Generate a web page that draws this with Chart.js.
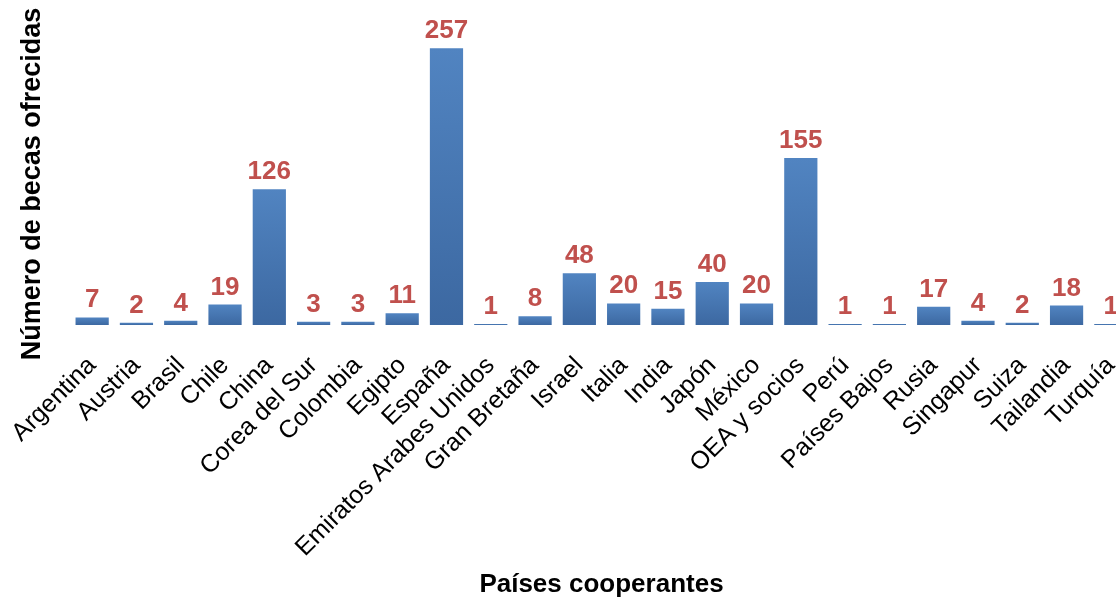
<!DOCTYPE html>
<html>
<head>
<meta charset="utf-8">
<script src="https://cdn.jsdelivr.net/npm/chart.js@4"></script>
<style>
  html, body { margin: 0; padding: 0; background: #fff; overflow: hidden; }
  .wrap { width: 1140px; height: 600px; }
</style>
</head>
<body>
<div class="wrap"><canvas id="becasChart" width="1140" height="600"></canvas></div>
<script>
// categorias y valores
const paises = ['Argentina', 'Austria', 'Brasil', 'Chile', 'China', 'Corea del Sur', 'Colombia', 'Egipto',
  'España', 'Emiratos Arabes Unidos', 'Gran Bretaña', 'Israel', 'Italia', 'India', 'Japón', 'México',
  'OEA y socios', 'Perú', 'Países Bajos', 'Rusia', 'Singapur', 'Suiza', 'Tailandia', 'Turquía'];
const becas = [7, 2, 4, 19, 126, 3, 3, 11, 257, 1, 8, 48, 20, 15, 40, 20, 155, 1, 1, 17, 4, 2, 18, 1];
const yMax = 300;

const tituloY = 'Número de becas ofrecidas';
const tituloX = 'Países cooperantes';

// gradient per bar, light on top, darker at the base
function barGradient(ctx) {
  const chart = ctx.chart;
  if (!chart.chartArea || !chart.scales.y) return '#4a79b3';
  const y = chart.scales.y;
  const top = y.getPixelForValue(ctx.raw);
  const base = y.getPixelForValue(0);
  if (!isFinite(top) || top === base) return '#4a79b3';
  const g = chart.ctx.createLinearGradient(0, top, 0, base);
  g.addColorStop(0, '#5184c1');
  g.addColorStop(1, '#3c68a1');
  return g;
}

// numbers above the bars
const valueLabels = {
  id: 'valueLabels',
  afterDatasetsDraw(chart) {
    const c = chart.ctx;
    const meta = chart.getDatasetMeta(0);
    c.save();
    c.font = 'bold 26px "Liberation Sans", Arial, sans-serif';
    c.fillStyle = '#c0504d';
    c.textAlign = 'center';
    c.textBaseline = 'alphabetic';
    meta.data.forEach((bar, i) => {
      c.fillText(String(becas[i]), bar.x, bar.y - 10);
    });
    c.restore();
  }
};

// vertical title on the left
const yTitle = {
  id: 'yTitle',
  afterDraw(chart) {
    const c = chart.ctx;
    c.save();
    c.translate(33, 184);
    c.rotate(-Math.PI / 2);
    c.font = 'bold 27px "Liberation Sans", Arial, sans-serif';
    c.fillStyle = '#000';
    c.textAlign = 'center';
    c.textBaseline = 'middle';
    c.fillText(tituloY, 0, 0);
    c.restore();
  }
};

new Chart(document.getElementById('becasChart'), {
  type: 'bar',
  data: {
    labels: paises,
    datasets: [{
      label: 'Becas',
      data: becas,
      backgroundColor: barGradient,
      borderWidth: 0,
      barPercentage: 0.75,
      categoryPercentage: 1
    }]
  },
  options: {
    responsive: false,
    animation: false,
    layout: { padding: { left: 70, right: 7, top: 2, bottom: 0 } },
    plugins: {
      legend: { display: false },
      tooltip: { enabled: false },
      title: { display: false }
    },
    scales: {
      y: {
        display: false,
        min: 0,
        max: yMax
      },
      x: {
        grid: { display: false, drawTicks: true, tickLength: 20, tickColor: 'rgba(0,0,0,0)' },
        border: { display: false },
        ticks: {
          color: '#000',
          font: { family: '"Liberation Sans", Arial, sans-serif', size: 25 },
          minRotation: 45,
          maxRotation: 45,
          autoSkip: false,
          padding: 6
        },
        title: {
          display: true,
          text: tituloX,
          color: '#000',
          font: { family: '"Liberation Sans", Arial, sans-serif', size: 26, weight: 'bold' },
          padding: { top: 0, bottom: 0 }
        }
      }
    }
  },
  plugins: [valueLabels, yTitle]
});
</script>
</body>
</html>
